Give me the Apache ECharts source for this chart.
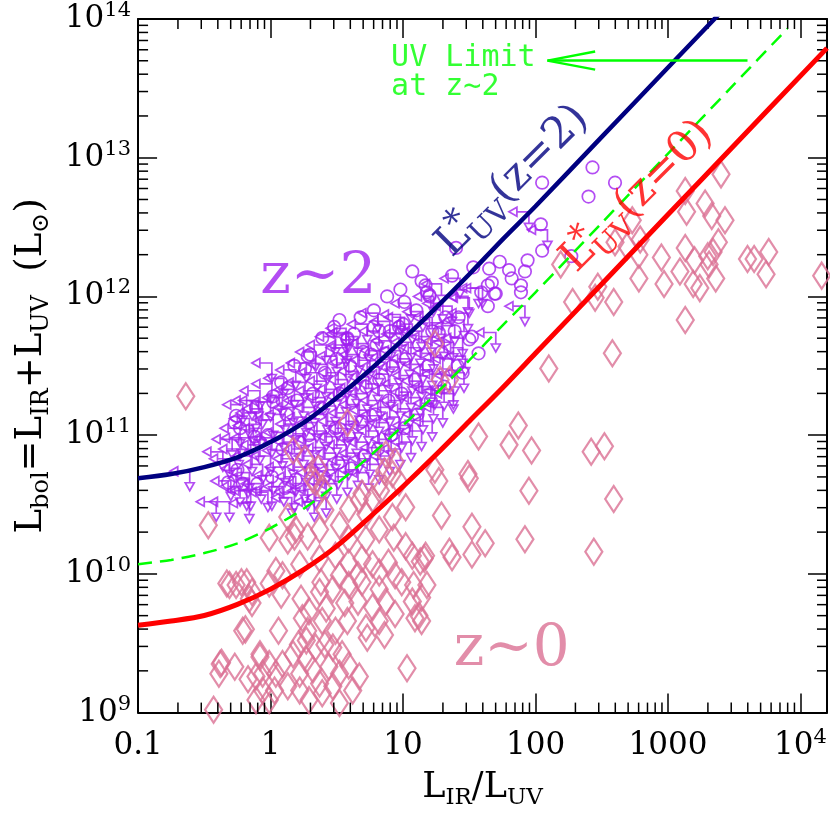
<!DOCTYPE html>
<html><head><meta charset="utf-8">
<script src="https://cdn.jsdelivr.net/npm/echarts@6/dist/echarts.min.js"></script>
<style>html,body{margin:0;padding:0;background:#fff}#c{width:830px;height:815px}</style>
</head><body><div id="c"></div><script>
// ---- Data (log10 units: x = log10(L_IR/L_UV), y = log10(L_bol / L_sun)) ----
const xTickLabels = ['0.1', '1', '10', '100', '1000', '10^4'];
const yTickLabels = ['10^9', '10^10', '10^11', '10^12', '10^13', '10^14'];

// z~0 sample (diamonds)
const z0LogIRX = [3.40,3.13,3.28,3.14,3.33,3.43,2.73,3.38,3.13,2.95,3.20,3.30,3.34,3.31,3.09,3.36,3.24,3.19,2.97,2.78,
 2.60,2.69,2.78,2.79,3.60,3.65,3.76,3.74,4.16,3.13,2.47,2.45,2.59,2.28,2.19,2.58,2.10,1.87,1.57,1.80,
 1.97,2.42,2.52,1.24,1.27,1.49,1.50,1.95,2.59,1.29,1.52,1.62,1.35,1.37,1.52,1.92,2.44,1.16,1.18,1.24,
 1.28,1.35,1.14,1.14,1.12,-0.64,0.58,0.17,0.26,0.36,0.32,0.39,0.87,0.94,0.86,0.92,0.82,0.69,0.83,0.97,
 0.34,-0.47,0.67,0.77,1.02,0.92,0.59,0.72,0.41,0.13,0.37,0.52,0.82,0.93,0.13,-0.01,0.18,0.28,0.59,0.72,
 1.02,1.07,1.17,0.22,0.37,0.49,0.59,0.69,0.77,0.89,0.04,0.09,0.52,0.66,0.82,0.94,0.99,1.13,-0.33,-0.26,
 -0.18,-0.14,-0.01,0.38,0.47,0.59,0.69,0.82,1.08,-0.14,0.08,0.23,0.37,0.29,0.42,0.56,0.66,0.77,0.87,0.94,
 1.07,1.09,-0.21,0.06,0.24,0.28,0.39,0.49,0.58,0.72,0.82,0.86,0.73,0.21,0.27,0.34,0.41,0.47,0.54,-0.08,
 0.17,0.27,-0.38,-0.27,-0.39,-0.01,0.09,0.04,-0.06,0.22,0.32,0.44,0.52,0.59,0.67,1.03,-0.11,-0.17,0.37,0.47,
 0.62,-0.06,0.03,0.13,0.22,-0.11,-0.01,0.29,0.39,0.52,-0.43,-0.31,-0.22,-0.16,-0.19,-0.37,-0.08,0.19];
const z0LogLbol = [12.88,12.76,12.67,12.61,12.58,12.55,12.55,12.39,12.35,12.28,12.26,12.29,12.32,12.23,12.18,12.13,12.06,12.09,12.09,12.13,
 12.39,12.36,12.30,12.41,12.27,12.27,12.32,12.16,12.15,11.83,12.07,11.99,11.96,11.96,12.23,11.59,11.48,11.07,10.99,10.93,
 10.89,10.88,10.92,10.75,10.67,10.72,10.69,10.60,10.54,10.42,10.34,10.22,10.16,10.12,10.14,10.25,10.16,10.11,9.92,11.66,
 11.40,11.40,9.83,9.66,9.70,11.28,11.09,10.89,10.83,10.76,10.68,10.62,10.86,10.81,10.74,10.72,10.65,10.58,10.60,10.66,
 10.66,10.35,10.53,10.54,10.48,10.41,10.47,10.43,10.46,10.41,10.32,10.35,10.32,10.26,10.24,10.26,10.27,10.27,10.25,10.25,
 10.20,10.13,10.13,10.07,10.11,10.13,10.08,10.11,10.07,10.08,10.02,9.99,9.99,9.99,10.01,9.99,9.94,10.09,9.93,9.92,
 9.94,9.87,9.93,9.94,9.89,9.92,9.94,9.89,9.92,9.79,9.85,9.82,9.87,9.73,9.75,9.79,9.80,9.76,9.80,9.71,
 9.80,9.68,9.59,9.59,9.68,9.59,9.66,9.59,9.66,9.61,9.66,9.56,9.54,9.49,9.52,9.47,9.49,9.47,9.42,9.42,
 9.42,9.38,9.35,9.33,9.28,9.35,9.35,9.28,9.28,9.28,9.31,9.33,9.28,9.34,9.26,9.32,9.26,9.24,9.21,9.19,
 9.16,9.16,9.16,9.19,9.16,9.09,9.09,9.09,9.14,9.07,9.02,9.92,9.94,9.82,9.60,9.36,9.40,10.32];

// z~2 detections (circles)
const z2DetLogIRX = [2.43,2.60,2.40,2.05,2.04,2.05,2.27,1.94,1.73,1.80,1.82,1.92,1.89,1.89,1.65,1.53,1.64,1.70,1.59,1.64,
 1.37,1.40,1.50,1.57,1.45,1.17,1.20,1.07,1.14,1.18,1.01,0.52,0.78,0.82,0.63,0.58,0.28,0.26,-0.26,-0.27,
 -0.32,-0.21,0.13,0.09,0.76,0.87,0.02,-0.12,1.42,1.52,0.97,0.99,1.27,1.67,1.69,
 -0.25,-0.23,-0.10,-0.08,-0.11,0.01,-0.02,0.02,0.11,0.09,0.12,0.08,0.19,0.22,0.20,0.18,0.31,0.29,0.32,0.30,
 0.40,0.42,0.38,0.41,0.39,0.51,0.49,0.52,0.50,0.48,0.61,0.59,0.62,0.60,0.58,0.71,0.69,0.72,0.70,0.68,
 0.81,0.79,0.82,0.80,0.78,0.91,0.89,0.92,0.90,0.88,1.01,0.99,1.02,1.00,0.98,1.11,1.09,1.12,1.10,1.21,
 1.19,1.22,1.20,1.31,1.29,1.32,1.41,1.39];
const z2DetLogLbol = [12.93,12.82,12.72,12.82,12.52,12.33,12.29,12.26,12.25,12.19,12.13,12.18,12.08,12.03,12.20,12.21,12.08,12.02,12.03,11.93,
 12.15,12.35,11.69,11.59,11.45,12.08,12.01,12.18,12.11,12.03,11.96,11.83,11.78,11.75,11.73,11.69,11.57,11.48,11.14,11.09,
 10.66,10.65,11.34,11.25,11.58,11.59,11.24,10.99,11.85,11.71,11.78,11.74,11.74,12.10,12.02,
 10.75,11.05,10.65,10.95,11.20,10.70,11.00,11.28,10.62,10.90,11.15,11.38,10.68,10.95,11.25,11.50,10.75,11.00,11.30,11.58,
 10.70,10.97,11.20,11.45,11.70,10.80,11.05,11.30,11.55,11.78,10.76,11.00,11.25,11.50,11.70,10.85,11.10,11.35,11.60,11.85,
 10.90,11.15,11.40,11.65,11.90,11.00,11.25,11.50,11.75,12.00,11.05,11.30,11.55,11.80,12.05,11.15,11.40,11.65,11.90,11.25,
 11.50,11.75,12.00,11.35,11.60,11.85,11.50,11.75];

// z~2 upper limits (corner of the arrow symbol)
const z2LimLogIRX = [1.95,2.09,1.92,1.70,1.45,1.38,1.24,1.50,1.43,1.57,1.60,1.49,1.01,0.01,0.57,0.57,-0.09,-0.11,-0.61,-0.36,
 -0.22,-0.21,1.29,1.49,0.59,-0.13,-0.17,-0.41,-0.31,-0.18,-0.02,0.16,0.28,0.33,-0.16,0.42,
 -0.30,-0.31,-0.29,-0.23,-0.22,-0.24,-0.23,-0.15,-0.16,-0.14,-0.15,-0.16,-0.14,-0.07,-0.06,-0.08,-0.07,-0.06,-0.08,
 0.01,0.02,0.00,0.01,0.02,0.00,0.01,0.10,0.11,0.09,0.10,0.11,0.09,0.10,0.18,0.19,0.17,0.18,0.19,0.17,0.18,0.19,
 0.26,0.27,0.25,0.26,0.27,0.25,0.26,0.27,0.34,0.35,0.33,0.34,0.35,0.33,0.34,0.35,0.34,
 0.42,0.43,0.41,0.42,0.43,0.41,0.42,0.43,0.42,0.50,0.51,0.49,0.50,0.51,0.49,0.50,0.51,0.50,0.49,
 0.58,0.59,0.57,0.58,0.59,0.57,0.58,0.59,0.58,0.57,0.66,0.67,0.65,0.66,0.67,0.65,0.66,0.67,0.66,
 0.74,0.75,0.73,0.74,0.75,0.73,0.74,0.75,0.74,0.73,0.82,0.83,0.81,0.82,0.83,0.81,0.82,0.83,0.82,0.81,
 0.90,0.91,0.89,0.90,0.91,0.89,0.90,0.91,0.90,0.98,0.99,0.97,0.98,0.99,0.97,0.98,0.99,0.98,
 1.06,1.07,1.05,1.06,1.07,1.05,1.06,1.07,1.06,1.14,1.15,1.13,1.14,1.15,1.13,1.14,1.15,
 1.22,1.23,1.21,1.22,1.23,1.21,1.22,1.23,1.30,1.31,1.29,1.30,1.31,1.29,1.30,1.38,1.39,1.37,1.38,1.39,1.37,
 1.46,1.47,1.45,1.46];
const z2LimLogLbol = [12.61,12.48,11.93,11.74,11.63,11.33,11.33,11.99,12.13,12.06,12.06,11.88,11.85,11.52,11.73,11.63,11.25,11.16,10.74,10.88,
 10.98,11.22,12.09,12.00,11.74,11.07,10.69,10.52,10.52,10.60,10.59,10.55,10.60,10.52,10.51,10.55,
 10.67,10.83,10.97,10.63,10.76,10.90,11.05,10.60,10.73,10.85,10.98,11.12,11.25,10.65,10.79,10.93,11.05,11.19,11.32,
 10.60,10.71,10.85,10.98,11.11,11.24,11.37,10.63,10.77,10.89,11.02,11.15,11.27,11.41,10.59,10.70,10.83,10.95,11.08,11.20,11.33,11.47,
 10.65,10.77,10.90,11.01,11.13,11.25,11.38,11.52,10.61,10.73,10.85,10.97,11.09,11.20,11.32,11.45,11.60,
 10.67,10.79,10.91,11.03,11.15,11.27,11.39,11.51,11.65,10.65,10.75,10.87,10.99,11.10,11.21,11.33,11.45,11.57,11.71,
 10.70,10.82,10.93,11.05,11.16,11.28,11.40,11.52,11.65,11.77,10.75,10.87,10.98,11.10,11.22,11.34,11.46,11.58,11.71,
 10.73,10.83,10.95,11.07,11.18,11.30,11.42,11.54,11.66,11.80,10.79,10.91,11.03,11.14,11.25,11.37,11.49,11.61,11.75,11.88,
 10.85,10.97,11.09,11.20,11.32,11.44,11.56,11.68,11.82,10.90,11.02,11.13,11.25,11.37,11.49,11.61,11.73,11.87,
 10.95,11.07,11.19,11.31,11.43,11.55,11.67,11.80,11.95,11.03,11.15,11.27,11.39,11.51,11.63,11.75,11.89,
 11.10,11.23,11.35,11.47,11.59,11.71,11.85,12.00,11.20,11.32,11.44,11.56,11.68,11.81,11.95,11.30,11.43,11.55,11.67,11.79,11.93,
 11.45,11.57,11.70,11.83];

// Model curves
const curveLogIRX = [-1,-0.75,-0.5,-0.25,0,0.25,0.5,0.75,1,1.25,1.5,1.75,2,2.5,3,3.5];
const uvStarZ2LogLbol = [10.69,10.72,10.77,10.84,10.95,11.09,11.27,11.47,11.69,11.92,12.16,12.41,12.65,13.15,13.65,14.15];
const uvLimitLogIRX = [-1,-0.75,-0.5,-0.25,0,0.25,0.5,0.75,1,1.25,1.5,1.75,2,2.5,3,3.5,3.9];
const uvLimitLogLbol = [10.07,10.10,10.15,10.22,10.33,10.47,10.65,10.85,11.07,11.30,11.54,11.79,12.03,12.53,13.03,13.53,13.93];
const uvStarZ0LogIRX = [-1,-0.75,-0.5,-0.25,0,0.25,0.5,0.75,1,1.25,1.5,1.75,2,2.5,3,3.5,4,4.2];
const uvStarZ0LogLbol = [9.63,9.66,9.70,9.78,9.89,10.03,10.20,10.41,10.63,10.86,11.10,11.34,11.59,12.09,12.59,13.09,13.59,13.79];

// ---- Chart ----
const PURPLE = '#a020f0', PINK = '#db7093', NAVY = '#000080', RED = '#ff0000', GREEN = '#00ff00';
const SERIF = 'DejaVu Serif', MONO = 'DejaVu Sans Mono';
const X_MIN = -1, X_MAX = 4.2, Y_MIN = 9, Y_MAX = 14;

const zip = (a, b) => a.map((v, i) => [v, b[i]]);
const tickRich = {
  n: { fontSize: 31, fontFamily: SERIF, color: '#000', lineHeight: 38 },
  sup: { fontSize: 21, fontFamily: SERIF, color: '#000', lineHeight: 21, verticalAlign: 'top' }
};
const fmtTick = s => {
  const p = s.split('^');
  return p.length > 1 ? '{n|' + p[0] + '}{sup|' + p[1] + '}' : '{n|' + s + '}';
};
const axisBase = {
  type: 'value', splitLine: { show: false },
  axisLine: { show: true, onZero: false, lineStyle: { color: '#000', width: 2 } },
  axisTick: { show: true, inside: true, length: 19, lineStyle: { color: '#000', width: 1.5 } }
};

const minorX = [], minorY = [];
for (let d = -1; d <= 4; d++) for (let k = 2; k <= 9; k++) { const v = d + Math.log10(k); if (v < X_MAX) minorX.push([v, Y_MIN]); }
for (let d = 9; d <= 13; d++) for (let k = 2; k <= 9; k++) minorY.push([X_MIN, d + Math.log10(k)]);

const tickStyle = { stroke: '#000', lineWidth: 1.5 };
const subRich = (size, color) => ({ fontSize: size, fontFamily: SERIF, color: color, lineHeight: size, verticalAlign: 'bottom' });

const limitPath = 'path://M0,4.5L8,0L8,9ZM8,4.5L20,4.5L20,16M15.5,16L24.5,16L20,24Z';

function textSeries(pt, formatter, rich, extra) {
  return {
    type: 'scatter', data: [pt], symbolSize: 0, silent: true, z: 10,
    label: Object.assign({ show: true, position: 'inside', formatter: formatter, rich: rich }, extra || {})
  };
}

const option = {
  animation: false,
  backgroundColor: '#fff',
  grid: { left: 134, right: 3, top: 12, bottom: 95 },
  xAxis: [
    Object.assign({}, axisBase, {
      min: X_MIN, max: X_MAX, interval: 1, position: 'bottom',
      axisLabel: { margin: 14, rich: tickRich, formatter: v => fmtTick(xTickLabels[Math.round(v - X_MIN)]) },
      name: 'L{s|IR}/L{s|UV}', nameLocation: 'middle', nameGap: 38,
      nameTextStyle: { fontSize: 35, fontFamily: SERIF, color: '#000', lineHeight: 44, rich: { s: subRich(23, '#000') } }
    }),
    Object.assign({}, axisBase, { min: X_MIN, max: X_MAX, interval: 1, position: 'top', axisLabel: { show: false } })
  ],
  yAxis: [
    Object.assign({}, axisBase, {
      min: Y_MIN, max: Y_MAX, interval: 1, position: 'left',
      axisLabel: { margin: 7, rich: tickRich, formatter: v => fmtTick(yTickLabels[Math.round(v - Y_MIN)]) },
      name: 'L{s|bol}=L{s|IR}+L{s|UV}  (L{s|⊙})', nameLocation: 'middle', nameGap: 80, nameRotate: 90,
      nameTextStyle: { fontSize: 37, fontFamily: SERIF, color: '#000', lineHeight: 46, rich: { s: subRich(24, '#000') } }
    }),
    Object.assign({}, axisBase, { min: Y_MIN, max: Y_MAX, interval: 1, position: 'right', axisLabel: { show: false } })
  ],
  series: [
    { type: 'custom', data: minorX, silent: true, z: 3,
      renderItem: (params, api) => {
        const p = api.coord([api.value(0), Y_MIN]); const cs = params.coordSys;
        return { type: 'group', children: [
          { type: 'line', shape: { x1: p[0], y1: cs.y + cs.height, x2: p[0], y2: cs.y + cs.height - 10 }, style: tickStyle },
          { type: 'line', shape: { x1: p[0], y1: cs.y, x2: p[0], y2: cs.y + 10 }, style: tickStyle }
        ] };
      } },
    { type: 'custom', data: minorY, silent: true, z: 3,
      renderItem: (params, api) => {
        const p = api.coord([X_MIN, api.value(1)]); const cs = params.coordSys;
        return { type: 'group', children: [
          { type: 'line', shape: { x1: cs.x, y1: p[1], x2: cs.x + 10, y2: p[1] }, style: tickStyle },
          { type: 'line', shape: { x1: cs.x + cs.width, y1: p[1], x2: cs.x + cs.width - 10, y2: p[1] }, style: tickStyle }
        ] };
      } },
    { type: 'scatter', name: 'z~2 limits', data: zip(z2LimLogIRX, z2LimLogLbol), symbol: limitPath,
      symbolSize: [24.5, 24], symbolOffset: [-7.75, 7.5], silent: true,
      itemStyle: { color: 'rgba(0,0,0,0)', borderColor: PURPLE, borderWidth: 1.7 } },
    { type: 'scatter', name: 'z~2 detections', data: zip(z2DetLogIRX, z2DetLogLbol), symbol: 'circle',
      symbolSize: 12.5, silent: true,
      itemStyle: { color: 'rgba(0,0,0,0)', borderColor: PURPLE, borderWidth: 1.7 } },
    { type: 'scatter', name: 'z~0', data: zip(z0LogIRX, z0LogLbol), symbol: 'diamond',
      symbolSize: [17, 26], silent: true,
      itemStyle: { color: 'rgba(0,0,0,0)', borderColor: PINK, borderWidth: 2.3 } },
    { type: 'line', data: zip(uvLimitLogIRX, uvLimitLogLbol), smooth: 0.3, symbol: 'none', silent: true, z: 4,
      lineStyle: { color: GREEN, width: 2.5, type: [14, 8] } },
    { type: 'line', data: zip(curveLogIRX, uvStarZ2LogLbol), smooth: 0.3, symbol: 'none', silent: true, z: 4,
      lineStyle: { color: NAVY, width: 4.5 } },
    { type: 'line', data: zip(uvStarZ0LogIRX, uvStarZ0LogLbol), smooth: 0.3, symbol: 'none', silent: true, z: 4,
      lineStyle: { color: RED, width: 5 } },
    // UV limit arrow
    { type: 'line', data: [[3.60, 13.70], [2.09, 13.70]], symbol: 'none', silent: true, z: 5,
      lineStyle: { color: GREEN, width: 2.5 } },
    { type: 'line', data: [[2.45, 13.765], [2.09, 13.70], [2.45, 13.635]], symbol: 'none', silent: true, z: 5,
      lineStyle: { color: GREEN, width: 2.5 } },
    // Text annotations
    textSeries([0.91, 13.61], 'UV Limit\nat z~2', {}, { align: 'left', verticalAlign: 'middle',
      fontSize: 30, lineHeight: 29, fontFamily: MONO, color: GREEN }),
    textSeries([0.36, 12.13], 'z~2', {}, { fontSize: 58, fontFamily: SERIF, color: PURPLE }),
    textSeries([1.82, 9.45], 'z~0', {}, { fontSize: 58, fontFamily: SERIF, color: PINK }),
    textSeries([1.83, 12.83], '{m|L}{st|*}{sb|UV}{m|(z=2)}', {
      m: { fontSize: 43, fontFamily: SERIF, color: NAVY, lineHeight: 56 },
      st: { fontSize: 36, fontFamily: SERIF, color: NAVY, lineHeight: 36, verticalAlign: 'top', width: 2 },
      sb: subRich(29, NAVY)
    }, { rotate: 45 }),
    textSeries([2.77, 12.72], '{m|L}{st|*}{sb|UV}{m|(z=0)}', {
      m: { fontSize: 43, fontFamily: SERIF, color: RED, lineHeight: 56 },
      st: { fontSize: 36, fontFamily: SERIF, color: RED, lineHeight: 36, verticalAlign: 'top', width: 2 },
      sb: subRich(29, RED)
    }, { rotate: 45 })
  ]
};

const chart = echarts.init(document.getElementById('c'), null, { renderer: 'canvas' });
chart.setOption(option);
</script></body></html>
